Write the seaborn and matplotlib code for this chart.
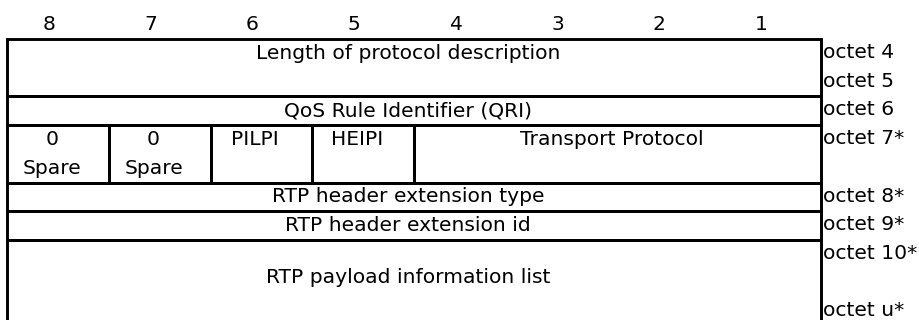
"""Bit layout of the protocol description field."""

import matplotlib

matplotlib.use("Agg")

import matplotlib.pyplot as plt
import seaborn as sns

sns.set_theme(style="white")
plt.rcParams["font.family"] = ["DejaVu Sans"]

# fields: label, leftmost bit, rightmost bit, first line, number of lines
field_labels = [
    "Length of protocol description",
    "QoS Rule Identifier (QRI)",
    "0\nSpare",
    "0\nSpare",
    "PILPI",
    "HEIPI",
    "Transport Protocol",
    "RTP header extension type",
    "RTP header extension id",
    "RTP payload information list",
]
field_bit_hi = [8, 8, 8, 7, 6, 5, 4, 8, 8, 8]
field_bit_lo = [1, 1, 8, 7, 6, 5, 1, 1, 1, 1]
field_line = [0, 2, 3, 3, 3, 3, 3, 5, 6, 7]
field_nlines = [2, 1, 2, 2, 2, 2, 2, 1, 1, 2.67]

octet_labels = ["octet 4", "octet 5", "octet 6", "octet 7*", "octet 8*",
                "octet 9*", "octet 10*", "octet u*"]
octet_line = [0, 1, 2, 3, 5, 6, 7, 9]

bit_numbers = [8, 7, 6, 5, 4, 3, 2, 1]

FS = 14.6
LW = 2.1

fig = plt.figure(figsize=(9.2, 3.2), dpi=100)
ax = fig.add_axes([0, 0, 1, 1])
ax.set_xlim(-0.069, 8.973)
ax.set_ylim(9.79, -1.36)
ax.axis("off")

# cell boxes
for hi, lo, top, n in zip(field_bit_hi, field_bit_lo, field_line, field_nlines):
    left = 8 - hi
    width = hi - lo + 1
    # last row runs off the bottom of the picture
    h = n if n == int(n) else n + 1
    ax.barh(top + h / 2, width, left=left, height=h, fill=False,
            edgecolor="black", linewidth=LW, clip_on=True)

# cell texts
for label, hi, lo, top, n in zip(field_labels, field_bit_hi, field_bit_lo,
                                 field_line, field_nlines):
    xc = 8 - hi + (hi - lo + 1) / 2 - 0.06
    if n == int(n):
        for i, part in enumerate(label.split("\n")):
            ax.text(xc, top + i + 0.5, part, ha="center", va="center",
                    fontsize=FS, color="black")
    else:
        ax.text(xc, top + n / 2 - 0.02, label, ha="center", va="center",
                fontsize=FS, color="black")

# bit numbers above the table
for i, b in enumerate(bit_numbers):
    ax.text(i + 0.5 - 0.09, -0.52, str(b), ha="center", va="center",
            fontsize=FS, color="black")

# octet labels on the right
for label, line in zip(octet_labels, octet_line):
    ax.text(8.02, line + 0.47, label, ha="left", va="center",
            fontsize=FS, color="black")

plt.savefig("out.png", dpi=100)
plt.close()
